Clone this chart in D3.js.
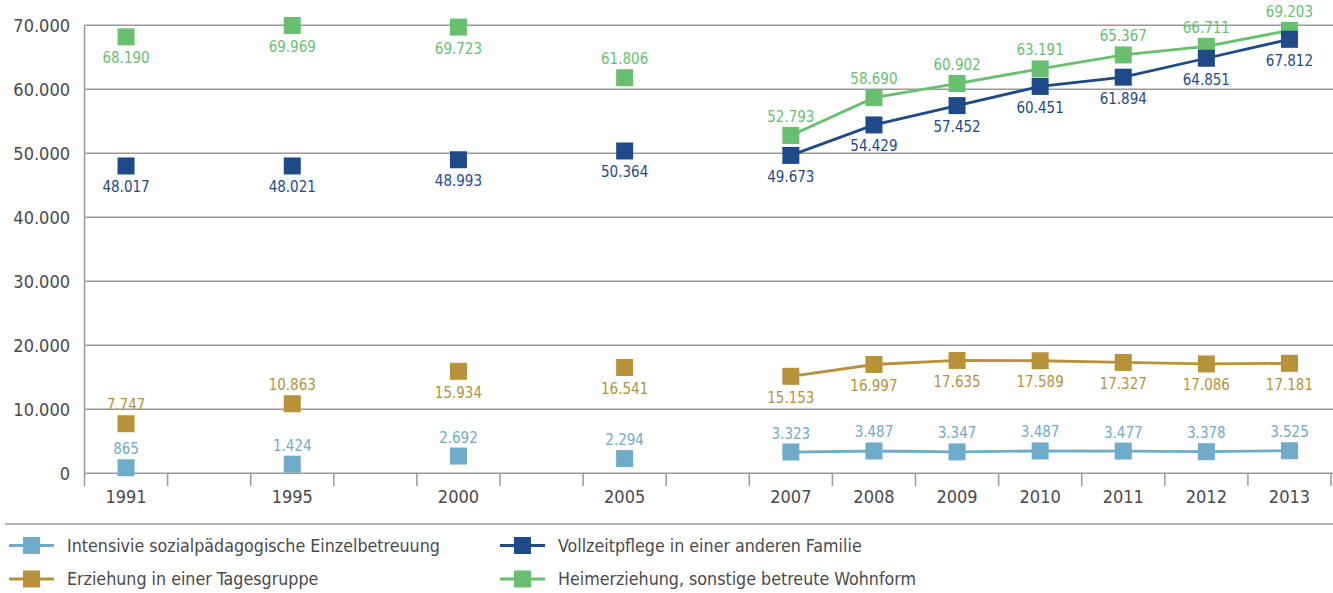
<!DOCTYPE html>
<html><head><meta charset="utf-8">
<script src="https://cdn.jsdelivr.net/npm/d3@7"></script>
<style>
html,body{margin:0;padding:0;background:#fff;}
svg{display:block;font-family:"Liberation Sans Narrow","DejaVu Sans Condensed","Arial Narrow",sans-serif;}
</style></head><body>
<svg id="c" width="1333" height="593"></svg>
<script>
const categories = ["1991","","1995","","2000","","2005","","2007","2008","2009","2010","2011","2012","2013"];
const linked = [false,false,false,false,false,false,false,false,true,true,true,true,true,true,true];
const yTicks = [0,10000,20000,30000,40000,50000,60000,70000];
const intensiv = [865,null,1424,null,2692,null,2294,null,3323,3487,3347,3487,3477,3378,3525];
const tages = [7747,null,10863,null,15934,null,16541,null,15153,16997,17635,17589,17327,17086,17181];
const heim = [68190,null,69969,null,69723,null,61806,null,52793,58690,60902,63191,65367,66711,69203];
const voll = [48017,null,48021,null,48993,null,50364,null,49673,54429,57452,60451,61894,64851,67812];
const seriesNames = ["Intensivie sozialpädagogische Einzelbetreuung","Vollzeitpflege in einer anderen Familie","Erziehung in einer Tagesgruppe","Heimerziehung, sonstige betreute Wohnform"];
// label side per category: -1 above, +1 below
const sideInt   = [-1,0,-1,0,-1,0,-1,0,-1,-1,-1,-1,-1,-1,-1];
const sideVoll  = [ 1,0, 1,0, 1,0, 1,0, 1, 1, 1, 1, 1, 1, 1];
const sideTages = [-1,0,-1,0, 1,0, 1,0, 1, 1, 1, 1, 1, 1, 1];
const sideHeim  = [ 1,0, 1,0, 1,0,-1,0,-1,-1,-1,-1,-1,-1,-1];

(function(){
const colors = {intensiv:"#6eacca", voll:"#1e4a8a", tages:"#b8913b", heim:"#67bf6f"};

const series = [
  {key:"heim", values:heim, color:colors.heim, side:sideHeim},
  {key:"tages", values:tages, color:colors.tages, side:sideTages},
  {key:"intensiv", values:intensiv, color:colors.intensiv, side:sideInt},
  {key:"voll", values:voll, color:colors.voll, side:sideVoll}
];

const svg = d3.select("#c");
const mLeft = 84.5, mRight = 1331, mTop = 25.3, mBottom = 473.3;
const x = d3.scaleBand().domain(d3.range(categories.length)).range([mLeft,mRight]).padding(0);
const y = d3.scaleLinear().domain([0,70000]).range([mBottom,mTop]);
const loc = d3.formatLocale({decimal:",", thousands:".", grouping:[3], currency:["","€"]});
const fmt = loc.format(",d");
const grid = "#9a9a9a", txt = "#4a4a4a";

svg.append("g").selectAll("line").data(yTicks).join("line")
  .attr("x1",mLeft).attr("x2",1333).attr("y1",d=>y(d)).attr("y2",d=>y(d))
  .attr("stroke",grid).attr("stroke-width",1.5);
svg.append("line").attr("x1",mLeft).attr("x2",mLeft).attr("y1",mTop).attr("y2",mBottom)
  .attr("stroke",grid).attr("stroke-width",1.5);
svg.append("g").selectAll("text").data(yTicks).join("text")
  .attr("x",70).attr("y",d=>y(d)).attr("dy","0.36em").attr("text-anchor","end")
  .attr("font-size",18).attr("fill",txt).text(d=>fmt(d));

const bounds = d3.range(categories.length+1).map(i=> mLeft + i*x.bandwidth());
svg.append("g").selectAll("line").data(bounds).join("line")
  .attr("x1",d=>d).attr("x2",d=>d).attr("y1",mBottom).attr("y2",486)
  .attr("stroke",grid).attr("stroke-width",1.5);
svg.append("g").selectAll("text").data(categories).join("text")
  .attr("x",(d,i)=>x(i)+x.bandwidth()/2).attr("y",503).attr("text-anchor","middle")
  .attr("font-size",18).attr("fill",txt).text(d=>d);

svg.append("line").attr("x1",5).attr("x2",1333).attr("y1",524).attr("y2",524)
  .attr("stroke",grid).attr("stroke-width",1.5);

const cx = i => x(i)+x.bandwidth()/2;
const line = d3.line().defined((d,i)=>linked[i] && d!=null).x((d,i)=>cx(i)).y(d=>y(d));
const ms = 17;

series.forEach(s=>{
  svg.append("path").datum(s.values).attr("d",line).attr("fill","none")
    .attr("stroke",s.color).attr("stroke-width",2.8);
});
series.forEach(s=>{
  svg.append("g").selectAll("rect").data(s.values.map((v,i)=>({v,i})).filter(d=>d.v!=null)).join("rect")
    .attr("x",d=>cx(d.i)-ms/2).attr("y",d=>y(d.v)-ms/2).attr("width",ms).attr("height",ms)
    .attr("fill",s.color);
});
series.forEach(s=>{
  svg.append("g").selectAll("text").data(s.values.map((v,i)=>({v,i})).filter(d=>d.v!=null)).join("text")
    .attr("x",d=>cx(d.i)).attr("y",d=>y(d.v) + (s.side[d.i]>0 ? 26.5 : -13.5))
    .attr("text-anchor","middle").attr("font-size",15).attr("fill",s.color).text(d=>fmt(d.v));
});

const legend = [
  {name:seriesNames[0], color:colors.intensiv, x:9, y:545.5},
  {name:seriesNames[1], color:colors.voll, x:500, y:545.5},
  {name:seriesNames[2], color:colors.tages, x:9, y:579},
  {name:seriesNames[3], color:colors.heim, x:500, y:579}
];
const lg = svg.append("g").selectAll("g").data(legend).join("g")
  .attr("transform",d=>`translate(${d.x},${d.y})`);
lg.append("line").attr("x1",0).attr("x2",45).attr("y1",0).attr("y2",0)
  .attr("stroke",d=>d.color).attr("stroke-width",2.8);
lg.append("rect").attr("x",14).attr("y",-8.5).attr("width",17).attr("height",17).attr("fill",d=>d.color);
lg.append("text").attr("x",58).attr("y",0).attr("dy","0.36em").attr("font-size",17.7)
  .attr("fill",txt).text(d=>d.name);
})();
</script>
</body></html>
